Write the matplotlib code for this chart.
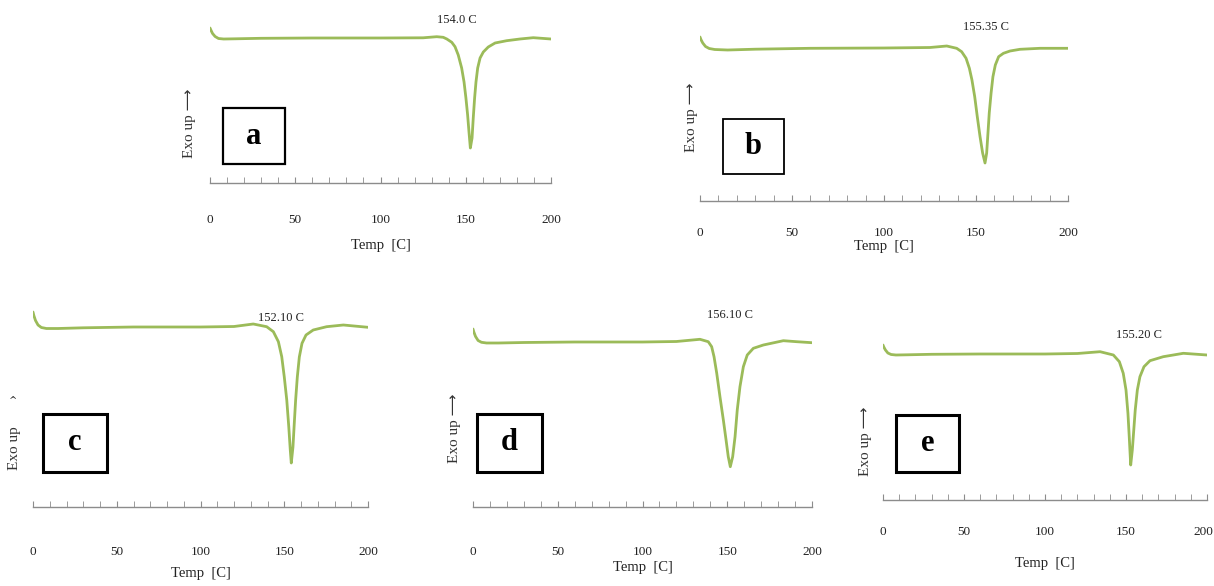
import matplotlib
matplotlib.use('Agg')
import matplotlib.pyplot as plt
import matplotlib.transforms as mtransforms
from matplotlib.patches import Rectangle

W, H = 1214, 586

# DSC curves, heat flow in arbitrary units (baseline = 0, endotherm pointing down)
temp_a = [0, 0.5, 1.5, 3, 5, 8, 15, 30, 60, 100, 125, 133, 136.8, 138.9, 141.8, 143.7, 145.6, 147.6,
          149.0, 150.1, 151.1, 151.9, 152.7, 153.7, 154.4, 155.2, 156.0, 157.0, 158.4, 160.3, 163.2,
          167.2, 174.0, 181.8, 189.6, 200]
flow_a = [1.0, 0.8, 0.45, 0.15, -0.05, -0.1, -0.08, -0.03, 0, 0, 0.02, 0.13, 0.07, -0.1, -0.43, -0.87,
          -1.7, -3.0, -4.4, -6.0, -7.7, -9.4, -11.0, -10.0, -8.0, -6.0, -4.4, -3.0, -2.0, -1.4, -0.9,
          -0.5, -0.27, -0.1, 0.03, -0.1]

temp_b = [0, 0.5, 1.5, 3, 5, 8, 15, 30, 60, 100, 125, 134.1, 139.5, 142.2, 144.6, 146.4, 147.8, 149.3,
          150.7, 152.2, 153.6, 154.9, 155.8, 156.5, 157.2, 158.2, 159.2, 160.5, 162.3, 164.9, 168.5,
          173.9, 184.8, 200]
flow_b = [1.1, 0.85, 0.5, 0.15, -0.05, -0.15, -0.2, -0.12, -0.03, 0, 0.05, 0.2, -0.03, -0.37, -1.03,
          -2.03, -3.2, -4.87, -6.87, -8.87, -10.5, -11.5, -10.5, -8.5, -6.5, -4.5, -2.87, -1.7, -0.87,
          -0.53, -0.3, -0.13, -0.03, -0.03]

temp_c = [0, 0.5, 1.5, 3, 5, 8, 15, 30, 60, 100, 120, 131.5, 139.5, 143.5, 146.5, 148.5, 150.0, 151.5,
          152.7, 153.6, 154.2, 155.2, 156.0, 156.8, 157.8, 159.0, 160.6, 163.0, 167.3, 175.3, 185.3, 200]
flow_c = [1.5, 1.15, 0.65, 0.2, -0.05, -0.15, -0.15, -0.08, 0, 0, 0.05, 0.3, 0.03, -0.47, -1.47, -2.97,
          -4.97, -7.3, -9.97, -12.3, -13.6, -12.0, -9.6, -7.3, -5.0, -3.0, -1.63, -0.8, -0.3, 0.03,
          0.2, -0.03]

temp_d = [0, 0.5, 1.5, 3, 5, 8, 15, 30, 60, 100, 120, 133.9, 138.8, 140.8, 142.2, 143.8, 145.7, 147.7,
          149.3, 150.6, 151.8, 153.2, 154.6, 155.9, 157.5, 159.5, 161.8, 165.4, 171.3, 183.1, 191.0, 200]
flow_d = [1.3, 1.0, 0.55, 0.15, -0.03, -0.1, -0.1, -0.05, 0, 0, 0.05, 0.27, 0.03, -0.47, -1.47, -3.13,
          -5.47, -7.8, -9.8, -11.47, -12.47, -11.47, -9.47, -6.8, -4.47, -2.47, -1.3, -0.63, -0.3,
          0.13, 0.03, -0.07]

temp_e = [0, 0.5, 1.5, 3, 5, 8, 15, 30, 60, 100, 120, 134.0, 142.2, 145.9, 148.3, 150.0, 151.2, 152.0,
          152.9, 153.9, 154.8, 155.7, 157.0, 158.6, 161.1, 164.8, 173.0, 185.4, 200]
flow_e = [0.9, 0.7, 0.4, 0.1, -0.05, -0.1, -0.08, -0.03, 0, 0, 0.05, 0.23, -0.1, -0.77, -1.93, -3.6,
          -5.93, -8.27, -11.1, -9.6, -7.6, -5.6, -3.6, -2.27, -1.27, -0.67, -0.27, 0.07, -0.1]

temps = [temp_a, temp_b, temp_c, temp_d, temp_e]
flows = [flow_a, flow_b, flow_c, flow_d, flow_e]
peak_labels = ['154.0 C', '155.35 C', '152.10 C', '156.10 C', '155.20 C']
panel_letters = ['a', 'b', 'c', 'd', 'e']
ylabels = ['Exo up \u27f6', 'Exo up \u27f6', 'Exo up       \u203a', 'Exo up \u27f6', 'Exo up \u27f6']
xticks = [0, 50, 100, 150, 200]

# layout in pixels: x of 0, x of 200, axis line y, baseline y
frames = [(210, 551, 183, 38), (700, 1068, 201, 48), (33, 368, 507, 327),
          (473, 812, 507, 342), (883, 1207, 500, 354)]
tick_pads = [22, 19, 28, 28, 19]
xlabel_y = [245, 247, 573, 568, 563]
ylabel_pos = [(190, 123), (692, 117), (15, 432), (455, 428), (865, 441)]
boxes = [(223, 108, 285, 164, 1.6), (723, 119, 784, 174, 1.3), (43, 414, 107, 472, 2.2),
         (477, 414, 542, 472, 2.2), (896, 415, 959, 472, 2.2)]
note_pos = [(144.9, 1.8), (155.4, 2.1), (148.0, 0.9), (151.6, 2.7), (158.0, 1.9)]

serif = ['Liberation Serif', 'DejaVu Serif']
green = '#9bbb59'

fig = plt.figure(figsize=(W / 100, H / 100), dpi=100)


def fx(px):
    return px / W


def fy(py):
    return 1 - py / H


for i in range(5):
    x0, x1, ax_y, base_y = frames[i]
    top_y = base_y - 30
    ax = fig.add_axes([fx(x0), fy(ax_y), (x1 - x0) / W, (ax_y - top_y) / H])
    ax.plot(temps[i], flows[i], color=green, lw=2.0, solid_capstyle='round', solid_joinstyle='round')
    ax.set_xlim(0, 200)
    ax.set_ylim((base_y - ax_y) / 10, 3.0)
    for s in ['top', 'right', 'left']:
        ax.spines[s].set_visible(False)
    ax.spines['bottom'].set_color('#8c8c8c')
    ax.spines['bottom'].set_linewidth(1.0)
    ax.set_yticks([])
    ax.set_xticks(xticks)
    ax.set_xticks(range(0, 201, 10), minor=True)
    ax.tick_params(axis='x', which='both', direction='in', length=4, color='#8c8c8c',
                   pad=tick_pads[i], labelsize=9.5, labelcolor='#222222')
    labels = ax.get_xticklabels()
    for lab in labels:
        lab.set_family(serif)
    if i == 4:
        # last label sits at the right edge of the picture
        last = labels[-1]
        last.set_horizontalalignment('right')
        last.set_transform(last.get_transform() +
                           mtransforms.ScaledTranslation(6 / 100, 0, fig.dpi_scale_trans))
    ax.patch.set_alpha(0)

    ax.text(note_pos[i][0], note_pos[i][1], peak_labels[i], ha='center', va='center',
            fontsize=9, family=serif, color='#222222', clip_on=False)

    fig.text(fx(x0 + (x1 - x0) / 2), fy(xlabel_y[i]), 'Temp  [C]', ha='center', va='center',
             fontsize=10.5, family=serif, color='#222222')
    fig.text(fx(ylabel_pos[i][0]), fy(ylabel_pos[i][1]), ylabels[i], rotation=90,
             ha='center', va='center', fontsize=11, family=['Liberation Serif', 'DejaVu Sans'],
             color='#333333')

    bx0, by0, bx1, by1, blw = boxes[i]
    fig.patches.append(Rectangle((fx(bx0), fy(by1)), (bx1 - bx0) / W, (by1 - by0) / H,
                                 transform=fig.transFigure, fill=False, ec='black', lw=blw))
    fig.text(fx((bx0 + bx1) / 2), fy((by0 + by1) / 2), panel_letters[i], ha='center',
             va='center', fontsize=22, fontweight='bold', family=serif)

fig.savefig('out.png', dpi=100)
